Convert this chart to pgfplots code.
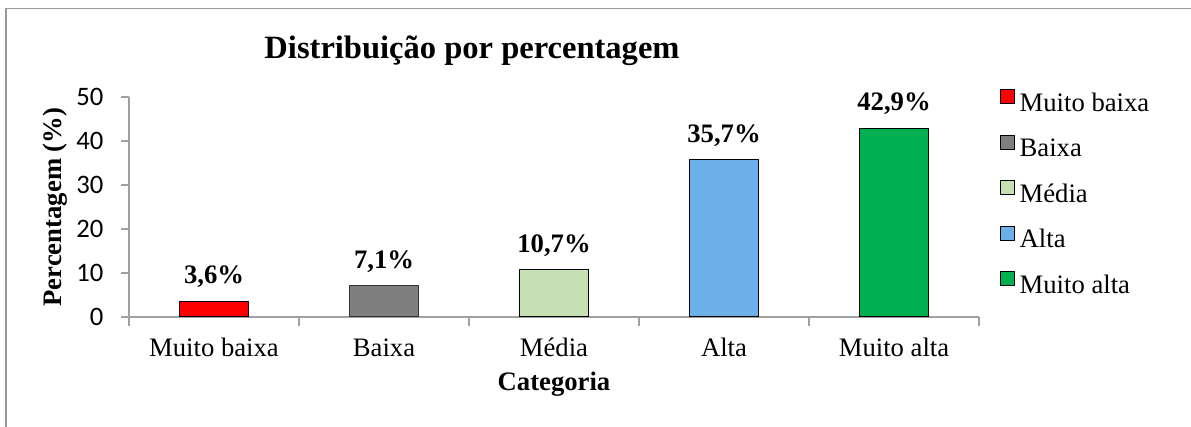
\documentclass[border=0pt]{standalone}
\usepackage{pgfplots}
\pgfplotsset{compat=1.18}
\usepackage{fontspec}
\setmainfont{Liberation Serif}
\newfontfamily\calibri{Carlito}
\definecolor{cRed}{HTML}{FF0000}
\definecolor{cGrey}{HTML}{7F7F7F}
\definecolor{cLGreen}{HTML}{C6E0B4}
\definecolor{cLBlue}{HTML}{6CB0EA}
\definecolor{cGreen}{HTML}{00B050}
\definecolor{axGrey}{HTML}{A0A0A0}
\begin{document}
\begin{tikzpicture}
\begin{axis}[
  at={(96.75pt,82.5pt)}, anchor=south west,
  scale only axis, width=637.5pt, height=165pt,
  xmin=-0.5, xmax=4.5, ymin=0, ymax=50,
  axis x line*=bottom, axis y line*=left,
  axis line style={draw=axGrey, line width=1.1pt},
  xtick={0,1,2,3,4},
  xticklabels={Muito baixa,Baixa,Média,Alta,Muito alta},
  major x tick style={draw=none},
  minor xtick={-0.5,0.5,1.5,2.5,3.5,4.5},
  minor x tick style={draw=axGrey, line width=1pt},
  minor tick length=6.5pt,
  ytick={0,10,20,30,40,50},
  y tick style={draw=axGrey, line width=1pt},
  major tick length=6pt,
  tick align=outside,
  /pgf/number format/assume math mode=true,
  yticklabel style={font=\calibri\fontsize{20}{20}\selectfont, inner sep=0pt, anchor=east, xshift=-13pt},
  xticklabel style={font=\rmfamily\fontsize{20}{20}\selectfont, inner sep=0pt, anchor=base, yshift=-24pt},
  xlabel={\textbf{Categoria}},
  ylabel={\textbf{Percentagem (\%)}},
  xlabel style={font=\rmfamily\fontsize{20}{20}\selectfont, at={(axis description cs:0.5,-0.305)}, anchor=center},
  ylabel style={font=\rmfamily\fontsize{20}{20}\selectfont, at={(axis description cs:-0.087,0.5)}, anchor=center},
  point meta=explicit symbolic,
  nodes near coords,
  nodes near coords style={font=\rmfamily\bfseries\fontsize{20}{20}\selectfont, anchor=base, yshift=13pt, inner sep=0pt, text=black},
  legend style={at={(axis description cs:1.0247,1.035)}, anchor=north west, draw=none, fill=none,
    inner sep=0pt, outer sep=0pt, font=\rmfamily\fontsize{20}{20}\selectfont, row sep=13.5pt, column sep=3.5pt,
    nodes={inner sep=0pt, text height=14pt, text depth=4pt}},
  legend cell align=left,
  legend image code/.code={\draw[#1,draw=black,line width=0.75pt] (0pt,0.75pt) rectangle (10.5pt,11.25pt);},
]
\addplot[ybar, bar width=51.75pt, bar shift=0pt, fill=cRed, draw=black, line width=0.75pt] coordinates {(0,3.6) [3,6\%]};
\addlegendentry{Muito baixa}
\addplot[ybar, bar width=51.75pt, bar shift=0pt, fill=cGrey, draw=black!80, line width=0.75pt] coordinates {(1,7.1) [7,1\%]};
\addlegendentry{Baixa}
\addplot[ybar, bar width=51.75pt, bar shift=0pt, fill=cLGreen, draw=black, line width=0.75pt] coordinates {(2,10.7) [10,7\%]};
\addlegendentry{Média}
\addplot[ybar, bar width=51.75pt, bar shift=0pt, fill=cLBlue, draw=black, line width=0.75pt] coordinates {(3,35.7) [35,7\%]};
\addlegendentry{Alta}
\addplot[ybar, bar width=51.75pt, bar shift=0pt, fill=cGreen, draw=black, line width=0.75pt] coordinates {(4,42.9) [42,9\%]};
\addlegendentry{Muito alta}
\end{axis}
\node[anchor=base, font=\rmfamily\bfseries\fontsize{24.4}{24.4}\selectfont] at (354pt,276pt) {Distribuição por percentagem};
\draw[draw=gray!80, line width=1.3pt] (4.7pt,-2pt) -- (4.7pt,313.9pt) -- (900pt,313.9pt);
\pgfresetboundingbox
\useasboundingbox (0pt,0pt) rectangle (893.25pt,320.25pt);
\end{tikzpicture}
\end{document}
